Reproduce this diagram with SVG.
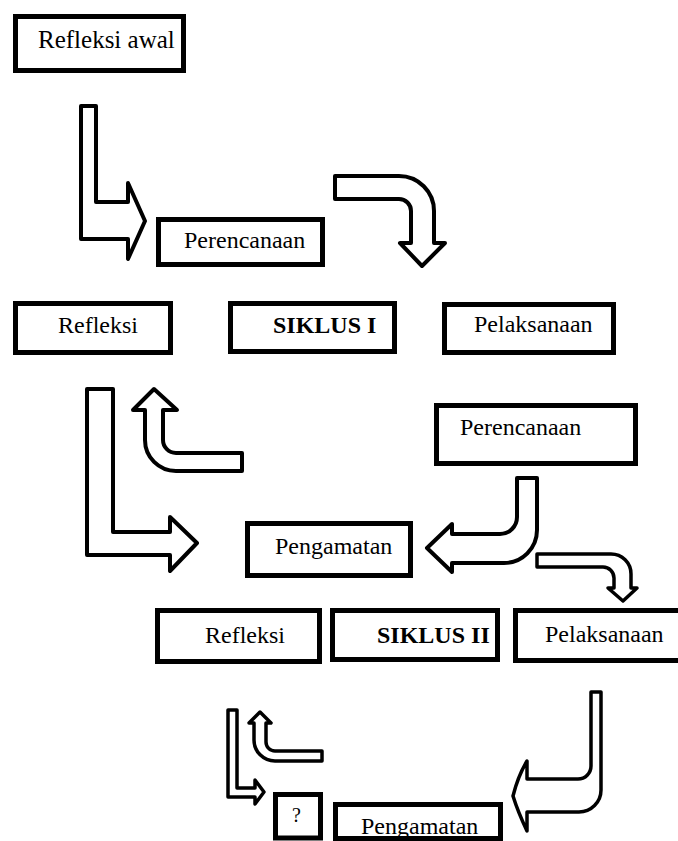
<svg xmlns="http://www.w3.org/2000/svg" width="678" height="841" viewBox="0 0 678 841">
<style>
.box{fill:#fff;stroke:#000;stroke-width:5}
.t{font-size:24px;fill:#000}
.b{font-weight:bold}
.arr{fill:#fff;stroke:#000;stroke-width:4;stroke-linejoin:round}
.sm{stroke-width:3.5}
</style>
<rect width="678" height="841" fill="#fff"/>
<g id="connectors">
<path id="a1" class="arr" d="M81,106 H96 V202 H128 V183 L145,221 L128,259 V239 H81 Z"/>
<path id="a2" class="arr" d="M335,176 H399 A35,35 0 0 1 434,211 V243 H445 L422,266 L400,243 H411 V211 A12,12 0 0 0 399,199 H335 Z"/>
<path id="a3" class="arr" d="M87,389 H113 V532 H170 V517 L197,543 L170,571 V555 H87 Z"/>
<path id="a4" class="arr" d="M154,389 L177,410 H163 V440 A13,13 0 0 0 176,453 H242 V471 H176 A31,31 0 0 1 145,440 V410 H133 Z"/>
<path id="a5" class="arr" d="M517,478 H537 V530 A33,33 0 0 1 504,563 H452 V572 L427,548 L452,524 V534 H500 A17,17 0 0 0 517,517 Z"/>
<path id="a6" class="arr sm" d="M537,554 H611 A20,20 0 0 1 631,574 V588 H637 L623,601 L608,588 H614 V578 A11,11 0 0 0 603,567 H537 Z"/>
<path id="a7" class="arr sm" d="M228,710 H237 V788 H255 V780 L264,792 L255,804 V797 H228 Z"/>
<path id="a8" class="arr sm" d="M260,712 L271,723 H266 V742 A9,9 0 0 0 275,751 H322 V761 H275 A21,21 0 0 1 254,740 V723 H249 Z"/>
<path id="a9" class="arr sm" d="M591,692 H601 V790 A22,22 0 0 1 579,812 H527 V831 Q518,812 513,796 Q518,776 527,761 V779 H578 A13,13 0 0 0 591,766 Z"/>
</g>
<g font-family="Liberation Serif, Tinos, DejaVu Serif, Times New Roman, serif">
<g id="refleksi-awal"><rect class="box" x="15.5" y="16.5" width="168" height="54"/><text class="t" x="38" y="48" style="font-size:25px">Refleksi awal</text></g>
<g id="perencanaan-1"><rect class="box" x="158.5" y="219.5" width="164" height="45"/><text class="t" x="184" y="248">Perencanaan</text></g>
<g id="refleksi-1"><rect class="box" x="15.5" y="303.5" width="155" height="49"/><text class="t" x="58" y="333">Refleksi</text></g>
<g id="siklus-1"><rect class="box" x="230.5" y="303.5" width="164" height="48"/><text class="t b" x="273" y="333">SIKLUS I</text></g>
<g id="pelaksanaan-1"><rect class="box" x="444.5" y="304.5" width="169" height="48"/><text class="t" x="474" y="332">Pelaksanaan</text></g>
<g id="perencanaan-2"><rect class="box" x="436.5" y="405.5" width="199" height="58"/><text class="t" x="460" y="435">Perencanaan</text></g>
<g id="pengamatan-1"><rect class="box" x="247.5" y="523.5" width="163" height="52"/><text class="t" x="275" y="554">Pengamatan</text></g>
<g id="refleksi-2"><rect class="box" x="157.5" y="610.5" width="162" height="51"/><text class="t" x="205" y="643">Refleksi</text></g>
<g id="siklus-2"><rect class="box" x="332.5" y="610.5" width="165" height="49"/><text class="t b" x="377" y="643">SIKLUS II</text></g>
<g id="pelaksanaan-2"><rect class="box" x="515.5" y="610.5" width="170" height="50"/><text class="t" x="545" y="642">Pelaksanaan</text></g>
<g id="tanya"><rect class="box" x="275.5" y="794.5" width="45" height="43.5"/><text class="t" x="292" y="822" style="font-size:20px">?</text></g>
<g id="pengamatan-2"><rect class="box" x="335.5" y="804.5" width="165" height="34"/><text class="t" x="361" y="834">Pengamatan</text></g>
</g>
</svg>
